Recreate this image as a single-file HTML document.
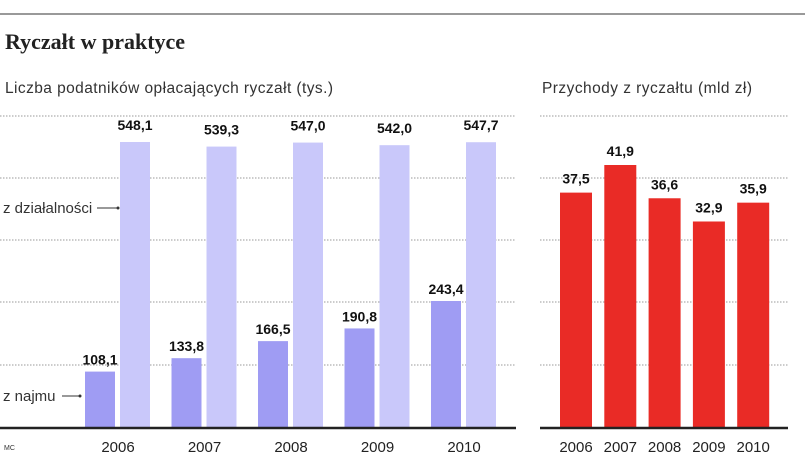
<!DOCTYPE html>
<html><head><meta charset="utf-8"><style>
body{margin:0;background:#fff;width:805px;height:462px;overflow:hidden;font-family:"Liberation Sans",sans-serif}
</style></head><body>
<svg width="805" height="462" id="svg">
<line x1="0" y1="14" x2="805" y2="14" stroke="#999" stroke-width="2"/>
<text x="5" y="49" font-family="Liberation Serif,serif" font-weight="bold" font-size="22" fill="#222">Ryczałt w praktyce</text>
<text x="5" y="93" font-size="15.5" fill="#333" textLength="328">Liczba podatników opłacających ryczałt (tys.)</text>
<text x="542" y="93" font-size="15.5" fill="#333" textLength="210">Przychody z ryczałtu (mld zł)</text>
<g id="grid"></g><g id="bars"></g>
<line x1="0" y1="428" x2="516" y2="428" stroke="#222" stroke-width="2.5"/>
<line x1="540" y1="428" x2="788" y2="428" stroke="#222" stroke-width="2.5"/>
<text x="3" y="213" font-size="15" fill="#333">z działalności</text>
<line x1="97" y1="208" x2="118" y2="208" stroke="#333"/>
<circle cx="118" cy="208" r="1.5" fill="#333"/>
<text x="3" y="401" font-size="15" fill="#333">z najmu</text>
<line x1="62" y1="396" x2="80" y2="396" stroke="#333"/>
<circle cx="80" cy="396" r="1.5" fill="#333"/>
<text x="4" y="450" font-size="7" fill="#333">MC</text>
</svg>
<script>
const years=["2006","2007","2008","2009","2010"];
const najmu=[108.1,133.8,166.5,190.8,243.4];
const dzial=[548.1,539.3,547.0,542.0,547.7];
const dzialLabels=["548,1","539,3","547,0","542,0","547,7"];
const najmuLabels=["108,1","133,8","166,5","190,8","243,4"];
const przychody=[37.5,41.9,36.6,32.9,35.9];
const przychodyLabels=["37,5","41,9","36,6","32,9","35,9"];
const NS="http://www.w3.org/2000/svg";
const base=428;
const yL=v=>base-v*(286/548.1);
const yR=v=>base-v*(263/41.9);
const xL=i=>85+i*86.5;
const xR=i=>560+i*44.3;
function mk(t,a,p){const e=document.createElementNS(NS,t);for(const k in a)e.setAttribute(k,a[k]);p.appendChild(e);return e;}
const g=document.getElementById('grid'),b=document.getElementById('bars');
[116,178,240,302,365].forEach((y,i)=>{
 let l=mk('line',{x1:0,x2:516,y1:y,y2:y,stroke:'#999','stroke-dasharray':'1.5 1.5'},g);
 
 
 let r=mk('line',{x1:540,x2:788,y1:y,y2:y,stroke:'#999','stroke-dasharray':'1.5 1.5'},g);
 
 
});
years.forEach((yr,i)=>{
 const x=xL(i);
 let r1=mk('rect',{x:x,y:yL(najmu[i]),width:30,height:base-yL(najmu[i]),fill:'#9f9cf3'},b);
 
 
 let r2=mk('rect',{x:x+35,y:yL(dzial[i]),width:30,height:base-yL(dzial[i]),fill:'#c9c8fa'},b);
 
 
 let t1=mk('text',{x:x+15,y:yL(najmu[i])-7,'text-anchor':'middle','font-size':14,'font-weight':'bold',fill:'#111'},b);t1.textContent=najmuLabels[i];
 
 
 let t2=mk('text',{x:x+50,y:yL(dzial[i])-12,'text-anchor':'middle','font-size':14,'font-weight':'bold',fill:'#111'},b);t2.textContent=dzialLabels[i];
 
 
 let ty=mk('text',{x:x+33,y:452,'text-anchor':'middle','font-size':15,fill:'#222'},b);ty.textContent=yr;
 
 
 const xr=xR(i);
 let r3=mk('rect',{x:xr,y:yR(przychody[i]),width:32,height:base-yR(przychody[i]),fill:'#e92b26'},b);
 
 
 let t3=mk('text',{x:xr+16,y:yR(przychody[i])-9,'text-anchor':'middle','font-size':14,'font-weight':'bold',fill:'#111'},b);t3.textContent=przychodyLabels[i];
 
 
 let ty2=mk('text',{x:xr+16,y:452,'text-anchor':'middle','font-size':15,fill:'#222'},b);ty2.textContent=yr;
 
 
});
</script>
</body></html>
